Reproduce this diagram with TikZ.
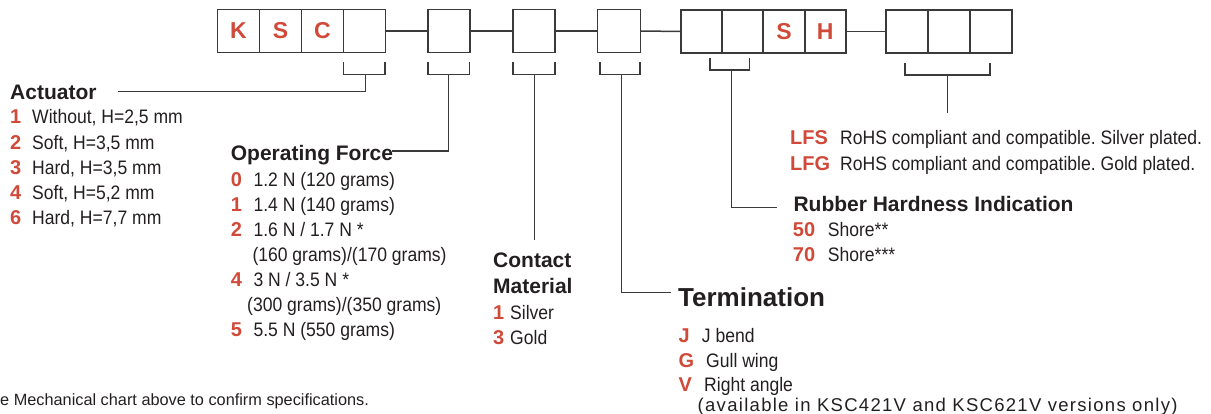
\documentclass[tikz,border=0pt]{standalone}
\usepackage{fontspec}
\setmainfont{Liberation Sans}
\newfontfamily\cond{Liberation Sans}[FakeStretch=0.9]
\newfontfamily\wide{Liberation Sans}[LetterSpace=7]
\usetikzlibrary{calc}
\frenchspacing
\definecolor{codered}{RGB}{208,73,57}
\definecolor{ink}{RGB}{35,31,32}
\definecolor{linegray}{RGB}{58,58,58}
\newcommand{\cd}[2]{\makebox[#1][l]{\fontsize{20}{20}\normalfont\bfseries\color{codered}#2}}
\tikzset{
  cell/.style={draw=linegray, line width=1.8pt, minimum width=42pt, minimum height=43pt,
    inner sep=0pt, outer sep=0pt, font=\fontsize{23}{23}\selectfont\bfseries, text=codered},
  wire/.style={draw=linegray, line width=1.5pt},
  head/.style={anchor=base west, inner sep=0pt, font=\fontsize{21}{21}\selectfont\bfseries, text=ink},
  bighead/.style={head, font=\fontsize{26}{26}\selectfont\bfseries},
  item/.style={anchor=base west, inner sep=0pt, font=\fontsize{19.5}{19.5}\selectfont\cond, text=ink},
  widenote/.style={anchor=base west, inner sep=0pt, font=\fontsize{18.5}{18.5}\selectfont\wide, text=ink},
  note/.style={anchor=base west, inner sep=0pt, font=\fontsize{16.3}{16.3}\selectfont, text=ink},
}
\begin{document}
\begin{tikzpicture}[x=1pt,y=-1pt]
\useasboundingbox (0,0) rectangle (1211,414);
% ---- code boxes ----
\node[cell] (k1) at (238.5,31) {K};
\node[cell] (k2) at (280.5,31) {S};
\node[cell] (k3) at (322.5,31) {C};
\node[cell] (k4) at (364.5,31) {};
\node[cell] (b5) at (448.8,31) {};
\node[cell] (b6) at (533.8,31) {};
\node[cell, minimum width=43pt] (b7) at (619,31) {};
\node[cell, minimum width=41.3pt] (s1) at (701.35,31.5) {};
\node[cell, minimum width=41.3pt] (s2) at (742.65,31.5) {};
\node[cell, minimum width=41.3pt] (s3) at (783.95,31.5) {S};
\node[cell, minimum width=41.3pt] (s4) at (825.25,31.5) {H};
\node[cell] (l1) at (906.7,31.5) {};
\node[cell] (l2) at (948.7,31.5) {};
\node[cell] (l3) at (990.7,31.5) {};
\draw[wire] (k4.east) -- (b5.west);
\draw[wire] (b5.east) -- (b6.west);
\draw[wire] (b6.east) -- (b7.west);
\draw[wire] (b7.east) -- (s1.west);
\draw[wire] (s4.east) -- (l1.west);
% ---- brackets ----
\draw[wire] (343.3,62.3) |- (385,74.3) -- (385,62.3);
\draw[wire] (427.8,62.3) |- (469.3,74.3) -- (469.3,62.3);
\draw[wire] (512.8,62.3) |- (555,74.3) -- (555,62.3);
\draw[wire] (600,62.3) |- (640,74.3) -- (640,62.3);
\draw[wire] (710,58.3) |- (749.3,70) -- (749.3,58.3);
\draw[wire] (905,63.3) |- (990,75) -- (990,63.3);
\coordinate (m4) at (365.7,74.3);
\coordinate (m5) at (448.3,74.3);
\coordinate (m6) at (534.3,74.3);
\coordinate (m7) at (621.7,74.3);
\coordinate (ms) at (731.7,70);
\coordinate (ml) at (947.7,75);
% ---- headings ----
\node[head] (act) at (10,99.3) {Actuator};
\node[head] (opf) at (230.7,160.7) {Operating Force};
\node[head] (cm1) at (493,267.3) {Contact};
\node[head] (cm2) at (493,293.3) {Material};
\node[bighead] (term) at (678,306.7) {Termination};
\node[head] (rub) at (793.3,211.7) {Rubber Hardness Indication};
% ---- connector ends ----
\coordinate (actend) at (118,91.7);
\coordinate (opfend) at (392,151);
\coordinate (cmend) at (534.3,240);
\coordinate (termend) at (670.7,292.7);
\coordinate (rubend) at (776.7,207.7);
\coordinate (lfend) at (947.7,113.3);
\draw[wire] (m4) |- (actend);
\draw[wire] (m5) |- (opfend);
\draw[wire] (m6) -- (cmend);
\draw[wire] (m7) |- (termend);
\draw[wire] (ms) |- (rubend);
\draw[wire] (ml) -- (lfend);
% ---- Actuator items ----
\node[item] (a1) at (10,124)   {\cd{22pt}{1}Without, H=2,5 mm};
\node[item] (a2) at (10,149.3) {\cd{22pt}{2}Soft, H=3,5 mm};
\node[item] (a3) at (10,174.5) {\cd{22pt}{3}Hard, H=3,5 mm};
\node[item] (a4) at (10,199.7) {\cd{22pt}{4}Soft, H=5,2 mm};
\node[item] (a6) at (10,225)   {\cd{22pt}{6}Hard, H=7,7 mm};
% ---- Operating force items ----
\node[item] (o0) at (230.7,186.5) {\cd{22.6pt}{0}1.2 N (120 grams)};
\node[item] (o1) at (230.7,211.5) {\cd{22.6pt}{1}1.4 N (140 grams)};
\node[item] (o2) at (230.7,236.5) {\cd{22.6pt}{2}1.6 N / 1.7 N *};
\node[item] (o2b) at (252.3,261.5) {(160 grams)/(170 grams)};
\node[item] (o4) at (230.7,286.5) {\cd{22.6pt}{4}3 N / 3.5 N *};
\node[item] (o4b) at (247,311.5) {(300 grams)/(350 grams)};
\node[item] (o5) at (230.7,336.5) {\cd{22.6pt}{5}5.5 N (550 grams)};
% ---- Contact material items ----
\node[item] (c1) at (493,319.5) {\cd{17pt}{1}Silver};
\node[item] (c3) at (493,344.5) {\cd{17pt}{3}Gold};
% ---- Termination items ----
\node[item] (tj) at (678.3,342.7) {\cd{23.4pt}{J}J bend};
\node[item] (tg) at (678.3,367.3) {\cd{27.7pt}{G}Gull wing};
\node[item] (tv) at (678.3,391.7) {\cd{25.7pt}{V}Right angle};
\node[widenote] (tv2) at (697.5,411.7) {(available in KSC421V and KSC621V versions only)};
% ---- Lead free items ----
\node[item] (lfs) at (790,145)   {\cd{50pt}{LFS}RoHS compliant and compatible. Silver plated.};
\node[item] (lfg) at (790,170.5) {\cd{50pt}{LFG}RoHS compliant and compatible. Gold plated.};
% ---- Rubber items ----
\node[item] (r50) at (792.7,236.7) {\cd{35pt}{50}Shore**};
\node[item] (r70) at (792.7,261.7) {\cd{35pt}{70}Shore***};
% ---- footnote ----
\node[note] (fn) at (0,405.7) {e Mechanical chart above to confirm specifications.};
\end{tikzpicture}
\end{document}
